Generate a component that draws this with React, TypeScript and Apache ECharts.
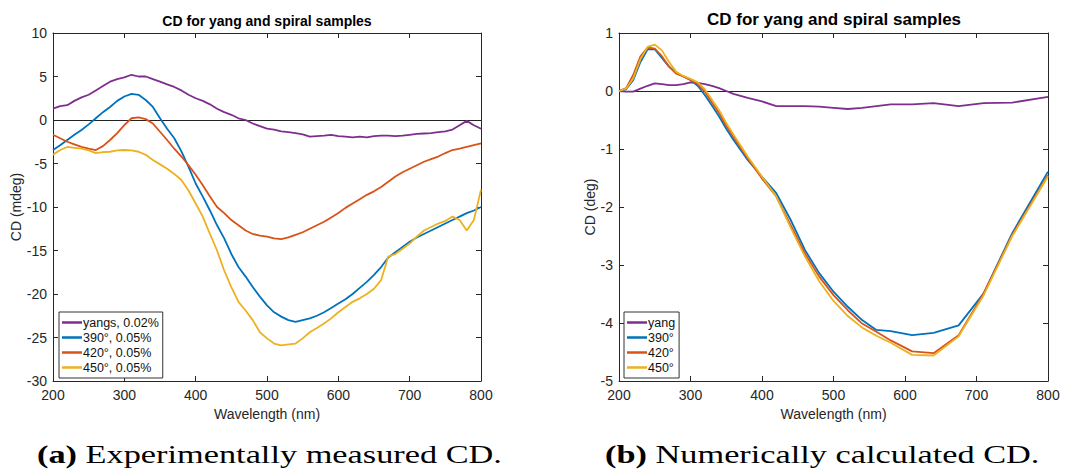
import React, { useEffect, useRef } from "react";
import * as echarts from "echarts";

// ---------- Data: (a) experimentally measured CD ----------
const wlExp = [200,210,220,230,240,250,260,270,280,290,300,310,320,330,340,350,360,370,380,390,400,410,420,430,440,450,460,470,480,490,500,510,520,530,540,550,560,570,580,590,600,610,620,630,640,650,660,670,680,690,700,710,720,730,740,750,760,770,780,790,800];
const expYang = [1.3,1.6,1.7,2.2,2.6,2.9,3.4,3.9,4.4,4.7,4.9,5.2,5.0,5.0,4.7,4.4,4.1,3.8,3.4,2.9,2.5,2.2,1.8,1.3,0.9,0.6,0.2,0.0,-0.4,-0.7,-1.0,-1.1,-1.3,-1.4,-1.5,-1.65,-1.9,-1.85,-1.8,-1.7,-1.85,-1.9,-2.0,-1.9,-2.0,-1.85,-1.8,-1.8,-1.85,-1.8,-1.7,-1.6,-1.55,-1.5,-1.4,-1.3,-1.1,-0.6,-0.1,-0.6,-1.0];
const exp390 = [-3.45,-2.9,-2.3,-1.7,-1.15,-0.5,0.2,0.9,1.5,2.2,2.7,3.0,2.9,2.3,1.5,0.2,-1.0,-2.1,-3.6,-5.4,-7.3,-8.8,-10.4,-12.1,-13.6,-15.4,-16.9,-18.0,-19.2,-20.3,-21.3,-22.1,-22.6,-23.0,-23.2,-23.0,-22.8,-22.5,-22.1,-21.6,-21.1,-20.6,-20.0,-19.3,-18.6,-17.8,-16.9,-15.8,-15.2,-14.6,-14.0,-13.5,-13.1,-12.7,-12.3,-11.9,-11.5,-11.1,-10.7,-10.4,-10.0];
const exp420 = [-1.7,-2.1,-2.5,-2.8,-3.1,-3.3,-3.45,-3.0,-2.3,-1.5,-0.6,0.2,0.3,0.1,-0.4,-1.35,-2.3,-3.3,-4.2,-5.2,-6.3,-7.5,-8.8,-10.0,-10.7,-11.5,-12.1,-12.7,-13.1,-13.3,-13.4,-13.6,-13.7,-13.5,-13.2,-12.9,-12.5,-12.1,-11.7,-11.2,-10.7,-10.1,-9.6,-9.1,-8.6,-8.2,-7.7,-7.1,-6.5,-6.0,-5.6,-5.2,-4.8,-4.5,-4.2,-3.8,-3.45,-3.3,-3.1,-2.9,-2.7];
const exp450 = [-4.0,-3.45,-3.1,-3.2,-3.3,-3.5,-3.8,-3.7,-3.65,-3.5,-3.45,-3.5,-3.65,-4.0,-4.6,-5.1,-5.6,-6.2,-6.9,-8.1,-9.6,-11.1,-13.1,-15.0,-17.3,-19.2,-20.9,-21.9,-23.0,-24.4,-25.1,-25.7,-25.9,-25.8,-25.7,-25.1,-24.4,-23.9,-23.4,-22.8,-22.1,-21.5,-20.9,-20.5,-20.0,-19.4,-18.4,-15.7,-15.4,-14.8,-14.2,-13.4,-12.7,-12.3,-11.9,-11.6,-11.1,-11.5,-12.7,-11.5,-8.0];
const expNames = ["yangs, 0.02%", "390°, 0.05%", "420°, 0.05%", "450°, 0.05%"];

// ---------- Data: (b) numerically calculated CD ----------
const wlCalc = [200,210,220,230,240,250,260,270,280,290,300,310,320,330,340,350,360,380,400,420,440,460,480,500,520,540,560,580,610,640,675,710,750,800];
const calcYang = [0,-0.01,-0.01,0.04,0.09,0.13,0.12,0.1,0.1,0.12,0.15,0.14,0.12,0.09,0.05,0.0,-0.05,-0.12,-0.18,-0.26,-0.26,-0.26,-0.27,-0.29,-0.31,-0.29,-0.26,-0.23,-0.23,-0.21,-0.26,-0.21,-0.2,-0.1];
const calc390 = [0,0.03,0.19,0.5,0.72,0.72,0.57,0.42,0.31,0.25,0.19,0.09,-0.07,-0.25,-0.44,-0.65,-0.84,-1.19,-1.48,-1.76,-2.22,-2.74,-3.14,-3.46,-3.72,-3.95,-4.12,-4.14,-4.21,-4.17,-4.04,-3.49,-2.45,-1.39];
const calc420 = [0,0.05,0.28,0.6,0.75,0.73,0.6,0.42,0.3,0.25,0.19,0.12,-0.01,-0.2,-0.38,-0.6,-0.79,-1.16,-1.51,-1.82,-2.31,-2.8,-3.2,-3.52,-3.78,-4.01,-4.15,-4.3,-4.49,-4.52,-4.21,-3.49,-2.48,-1.45];
const calc450 = [0,0.04,0.22,0.55,0.76,0.8,0.7,0.5,0.33,0.26,0.21,0.15,0.03,-0.15,-0.33,-0.55,-0.75,-1.13,-1.48,-1.82,-2.35,-2.85,-3.28,-3.62,-3.88,-4.08,-4.22,-4.34,-4.55,-4.56,-4.23,-3.52,-2.5,-1.47];
const calcNames = ["yang", "390°", "420°", "450°"];

const captionA = ["(a)", " Experimentally measured CD."];
const captionB = ["(b)", " Numerically calculated CD."];

const colors = ["#7E2F8E", "#0072BD", "#D95319", "#EDB120"];
const FONT = "Liberation Sans, Arial, Helvetica, sans-serif";
const SERIF = "Liberation Serif, DejaVu Serif, serif";
const AX = "#262626";

function pairs(xs: number[], ys: number[]) {
  return xs.map((x, i) => [x, ys[i]]);
}

function measure(parts: string[], size: number) {
  const c = document.createElement("canvas").getContext("2d")!;
  c.font = `bold ${size}px ${SERIF}`;
  const w0 = c.measureText(parts[0]).width;
  c.font = `${size}px ${SERIF}`;
  return w0 + c.measureText(parts[1]).width;
}

export default function App() {
  const ref = useRef<HTMLDivElement>(null);
  useEffect(() => {
    document.body.style.margin = "0";
    const chart = echarts.init(ref.current!, undefined, { renderer: "svg" });
    const grids = [
      { left: 53, top: 33, width: 428, height: 348 },
      { left: 619, top: 33, width: 429, height: 348 },
    ];
    const xBase = (gi: number, pos: string, show: boolean) => ({
      type: "value",
      gridIndex: gi,
      position: pos,
      min: 200,
      max: 800,
      interval: 100,
      axisLine: { show: true, onZero: false, lineStyle: { color: AX, width: 1 } },
      axisTick: { show: true, inside: true, length: 5, lineStyle: { color: AX } },
      axisLabel: { show, color: AX, fontSize: 14, fontFamily: FONT, margin: 7 },
      splitLine: { show: false },
      name: show ? "Wavelength (nm)" : "",
      nameLocation: "middle",
      nameGap: 24,
      nameTextStyle: { color: AX, fontSize: 14, fontFamily: FONT },
    });
    const yBase = (gi: number, pos: string, show: boolean, min: number, max: number, iv: number, name: string, gap: number) => ({
      type: "value",
      gridIndex: gi,
      position: pos,
      min,
      max,
      interval: iv,
      axisLine: { show: true, onZero: false, lineStyle: { color: AX, width: 1 } },
      axisTick: { show: true, inside: true, length: 5, lineStyle: { color: AX } },
      axisLabel: { show, color: AX, fontSize: 14, fontFamily: FONT, margin: 6 },
      splitLine: { show: false },
      name: show ? name : "",
      nameLocation: "middle",
      nameGap: gap,
      nameTextStyle: { color: AX, fontSize: 14, fontFamily: FONT },
    });
    const mkSeries = (name: string, data: number[][], ci: number, gi: number, zero: boolean) => ({
      type: "line",
      name,
      data,
      xAxisIndex: gi * 2,
      yAxisIndex: gi * 2,
      showSymbol: false,
      symbol: "none",
      smooth: false,
      lineStyle: { color: colors[ci], width: 1.8 },
      itemStyle: { color: colors[ci] },
      z: 3,
      markLine: zero
        ? {
            silent: true,
            symbol: "none",
            label: { show: false },
            lineStyle: { color: "#222", width: 1, type: "solid" },
            data: [{ yAxis: 0 }],
            z: 2,
          }
        : undefined,
    });
    const legendBase = (left: number, data: string[]) => ({
      left,
      top: 312,
      orient: "vertical",
      data,
      icon: "rect",
      itemWidth: 20,
      itemHeight: 2.5,
      itemGap: 0,
      padding: [3, 4, 3, 3],
      backgroundColor: "#fff",
      borderColor: "#333",
      borderWidth: 1,
      borderRadius: 0,
      selectedMode: false,
      textStyle: { color: "#111", fontSize: 12.5, fontFamily: FONT, lineHeight: 15, padding: [0, 0, 0, -4] },
    });

    const capSize = 26;
    const wA = measure(captionA, capSize);
    const sA = 465 / wA;
    const capText = (parts: string[], x: number, s: number) => ({
      type: "text",
      x,
      y: 454,
      scaleX: s,
      style: {
        text: `{b|${parts[0]}}${parts[1]}`,
        align: "left",
        verticalAlign: "middle",
        font: `${capSize}px ${SERIF}`,
        fill: "#000",
        rich: { b: { fontWeight: "bold", fontSize: capSize, fontFamily: SERIF, fill: "#000" } },
      },
    });

    chart.setOption({
      animation: false,
      backgroundColor: "#fff",
      grid: grids.map((g) => ({ ...g, containLabel: false })),
      xAxis: [xBase(0, "bottom", true), xBase(0, "top", false), xBase(1, "bottom", true), xBase(1, "top", false)],
      yAxis: [
        yBase(0, "left", true, -30, 10, 5, "CD (mdeg)", 29),
        yBase(0, "right", false, -30, 10, 5, "", 0),
        yBase(1, "left", true, -5, 1, 1, "CD (deg)", 21),
        yBase(1, "right", false, -5, 1, 1, "", 0),
      ],
      legend: [legendBase(59, expNames), legendBase(624, calcNames)],
      series: [
        mkSeries(expNames[0], pairs(wlExp, expYang), 0, 0, true),
        mkSeries(expNames[1], pairs(wlExp, exp390), 1, 0, false),
        mkSeries(expNames[2], pairs(wlExp, exp420), 2, 0, false),
        mkSeries(expNames[3], pairs(wlExp, exp450), 3, 0, false),
        mkSeries(calcNames[0], pairs(wlCalc, calcYang), 0, 1, true),
        mkSeries(calcNames[1], pairs(wlCalc, calc390), 1, 1, false),
        mkSeries(calcNames[2], pairs(wlCalc, calc420), 2, 1, false),
        mkSeries(calcNames[3], pairs(wlCalc, calc450), 3, 1, false),
      ],
      graphic: [
        {
          type: "text",
          x: 267,
          y: 21,
          style: { text: "CD for yang and spiral samples", font: `bold 14px ${FONT}`, fill: "#000", align: "center", verticalAlign: "middle" },
        },
        {
          type: "text",
          x: 834,
          y: 19,
          style: { text: "CD for yang and spiral samples", font: `bold 17px ${FONT}`, fill: "#000", align: "center", verticalAlign: "middle" },
        },
        capText(captionA, 37, sA),
        capText(captionB, 605, sA),
      ],
    });
    return () => chart.dispose();
  }, []);
  return <div ref={ref} style={{ width: 1072, height: 470 }} />;
}
